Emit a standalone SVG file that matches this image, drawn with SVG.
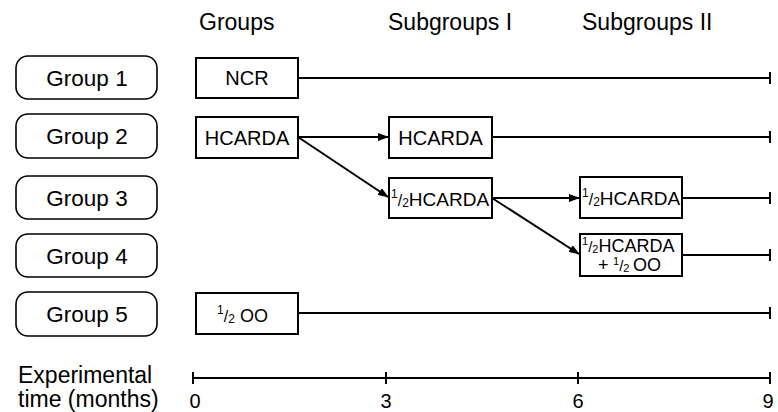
<svg xmlns="http://www.w3.org/2000/svg" width="778" height="412" viewBox="0 0 778 412">
<defs>
<style>
text{font-family:"Liberation Sans",Arial,sans-serif;fill:#000}
.lab{font-size:22.5px;text-anchor:middle}
.hdr{font-size:23px}
.box{fill:#fff;stroke:#000;stroke-width:2}
.rbox{fill:#fff;stroke:#000;stroke-width:1.6}
.ln{stroke:#000;stroke-width:2;fill:none}
.bt{font-size:20px;text-anchor:middle}
.sm{font-size:12px}
</style>
<marker id="ah" markerUnits="userSpaceOnUse" markerWidth="11" markerHeight="8" refX="10" refY="4" orient="auto">
<path d="M0,0 L11,4 L0,8 z" fill="#000"/>
</marker>
</defs>
<rect width="778" height="412" fill="#fff"/>

<g id="headers">
<text class="hdr" x="199" y="30">Groups</text>
<text class="hdr" x="388" y="30">Subgroups I</text>
<text class="hdr" x="582" y="30">Subgroups II</text>
</g>

<g id="group1"><rect class="rbox" x="16" y="56" width="141" height="43" rx="12"/><text class="lab" x="87" y="86">Group 1</text></g>
<g id="group2"><rect class="rbox" x="16" y="114" width="141" height="44" rx="12"/><text class="lab" x="87" y="144">Group 2</text></g>
<g id="group3"><rect class="rbox" x="16" y="176" width="141" height="43" rx="12"/><text class="lab" x="87" y="206">Group 3</text></g>
<g id="group4"><rect class="rbox" x="16" y="234" width="141" height="43" rx="12"/><text class="lab" x="87" y="264">Group 4</text></g>
<g id="group5"><rect class="rbox" x="16" y="292" width="141" height="44" rx="12"/><text class="lab" x="87" y="322">Group 5</text></g>

<g id="ncr"><rect class="box" x="196" y="58" width="102" height="40"/><text class="bt" x="247" y="85">NCR</text></g>
<g id="hcarda0"><rect class="box" x="196" y="117" width="102" height="41"/><text class="bt" x="247" y="145">HCARDA</text></g>
<g id="hcarda3"><rect class="box" x="389" y="117" width="103" height="41"/><text class="bt" x="440.5" y="145">HCARDA</text></g>
<g id="halfhcarda3"><rect class="box" x="389" y="178" width="103" height="40"/>
<text x="391" y="206" font-size="19"><tspan class="sm" dy="-8">1</tspan><tspan font-size="16" dy="8">/</tspan><tspan class="sm" dy="1">2</tspan><tspan dy="-1">HCARDA</tspan></text></g>
<g id="halfhcarda6"><rect class="box" x="580" y="177" width="102" height="41"/>
<text x="582" y="205" font-size="19"><tspan class="sm" dy="-8">1</tspan><tspan font-size="16" dy="8">/</tspan><tspan class="sm" dy="1">2</tspan><tspan dy="-1">HCARDA</tspan></text></g>
<g id="halfmix6"><rect class="box" x="580" y="234" width="102" height="42"/>
<text x="582" y="252" font-size="18"><tspan font-size="11" dy="-7">1</tspan><tspan font-size="15" dy="7">/</tspan><tspan font-size="11" dy="1">2</tspan><tspan dy="-1">HCARDA</tspan></text>
<text x="598" y="271" font-size="18">+<tspan font-size="11" x="613" dy="-6">1</tspan><tspan font-size="15" dy="6">/</tspan><tspan font-size="11" dy="1">2</tspan><tspan x="633" dy="-1">OO</tspan></text></g>
<g id="halfoo"><rect class="box" x="196" y="293" width="102" height="41"/>
<text x="217" y="322" font-size="18"><tspan class="sm" dy="-8">1</tspan><tspan font-size="16" dy="8">/</tspan><tspan class="sm" dy="1">2</tspan><tspan x="240" dy="-1">OO</tspan></text></g>

<g id="connectors">
<path class="ln" d="M298,78 H770 M770,72 V84"/>
<path class="ln" d="M492,137 H770 M770,131 V143"/>
<path class="ln" d="M682,198 H770 M770,192 V204"/>
<path class="ln" d="M682,255 H770 M770,249 V261"/>
<path class="ln" d="M298,313 H770 M770,307 V319"/>
<path class="ln" d="M298,137 H388" marker-end="url(#ah)"/>
<path class="ln" d="M298,137 L388,197" marker-end="url(#ah)"/>
<path class="ln" d="M492,198 H579" marker-end="url(#ah)"/>
<path class="ln" d="M492,198 L579,254" marker-end="url(#ah)"/>
</g>

<g id="axis">
<path class="ln" d="M193,378 H770 M193,372 V384 M386,372 V384 M578,372 V384 M770,372 V384"/>
<text font-size="23" x="18" y="383">Experimental</text>
<text font-size="23" x="18" y="407">time (months)</text>
<text font-size="20" x="195" y="408" text-anchor="middle">0</text>
<text font-size="20" x="386" y="408" text-anchor="middle">3</text>
<text font-size="20" x="578" y="408" text-anchor="middle">6</text>
<text font-size="20" x="768" y="408" text-anchor="middle">9</text>
</g>
</svg>
